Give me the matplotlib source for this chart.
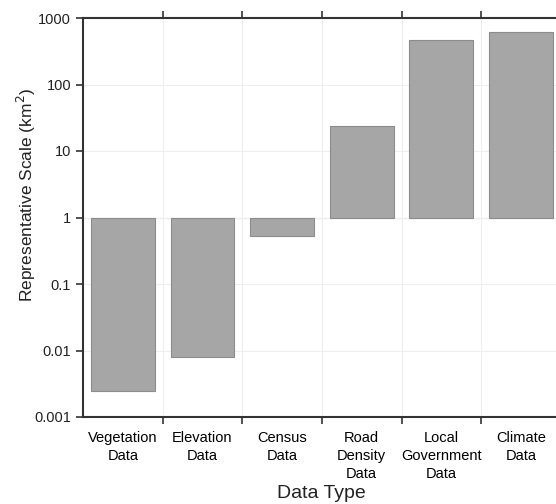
import numpy as np
import matplotlib.pyplot as plt
from matplotlib.ticker import FixedLocator, NullFormatter

plt.rcParams['font.family'] = ['Liberation Sans', 'DejaVu Sans']

# data
categories = ["Vegetation\nData", "Elevation\nData", "Census\nData",
              "Road\nDensity\nData", "Local\nGovernment\nData", "Climate\nData"]
scale_km2 = [0.0025, 0.008, 0.52, 24, 460, 620]
y_ticks = [0.001, 0.01, 0.1, 1, 10, 100, 1000]
y_tick_labels = ["0.001", "0.01", "0.1", "1", "10", "100", "1000"]

W, H = 556, 504
fig = plt.figure(figsize=(W / 100, H / 100), dpi=100)
ax = fig.add_axes([83 / W, 1 - 417 / H, 1 - 83 / W, (417 - 18) / H])

x = np.arange(len(categories))
heights = [v - 1 for v in scale_km2]
ax.bar(x, heights, bottom=1, width=0.8, color='#a6a6a6',
       edgecolor='#8c8c8c', linewidth=0.8, zorder=2)

ax.set_yscale('log')
ax.set_ylim(0.001, 1000)
ax.set_xlim(-0.5, 5.44)
ax.set_yticks(y_ticks)
ax.set_yticklabels(y_tick_labels)
ax.yaxis.set_minor_locator(FixedLocator([]))

ax.set_xticks(x)
ax.set_xticklabels(categories, fontsize=10.5, linespacing=1.35)
ax.xaxis.set_minor_locator(FixedLocator(np.arange(0.5, 5.5, 1.0)))
ax.xaxis.set_minor_formatter(NullFormatter())

ax.tick_params(axis='x', which='major', length=0, pad=10)
ax.tick_params(axis='x', which='minor', length=5, width=1.2, color='#333333',
               direction='out', top=True, bottom=True)
ax.tick_params(axis='y', which='major', length=5, width=1.2, color='#333333',
               labelsize=10.5, direction='out', labelcolor='#222222')

ax.grid(True, which='major', axis='y', color='#eeeeee', linewidth=0.8, zorder=0)
ax.grid(True, which='minor', axis='x', color='#eeeeee', linewidth=0.8, zorder=0)
ax.axhline(1, color='#cccccc', linewidth=0.8, zorder=1)

for side in ['left', 'bottom', 'top']:
    ax.spines[side].set_color('#333333')
    ax.spines[side].set_linewidth(1.5)
ax.spines['right'].set_visible(False)

fig.text(26 / W, 1 - 195 / H, "Representative Scale (km$^2$)", fontsize=12.5,
         rotation=90, ha='center', va='center', color='#222222')
fig.text(321 / W, 1 - 494 / H, "Data Type", fontsize=14,
         ha='center', va='center', color='#222222')

fig.savefig("out.png", dpi=100)
